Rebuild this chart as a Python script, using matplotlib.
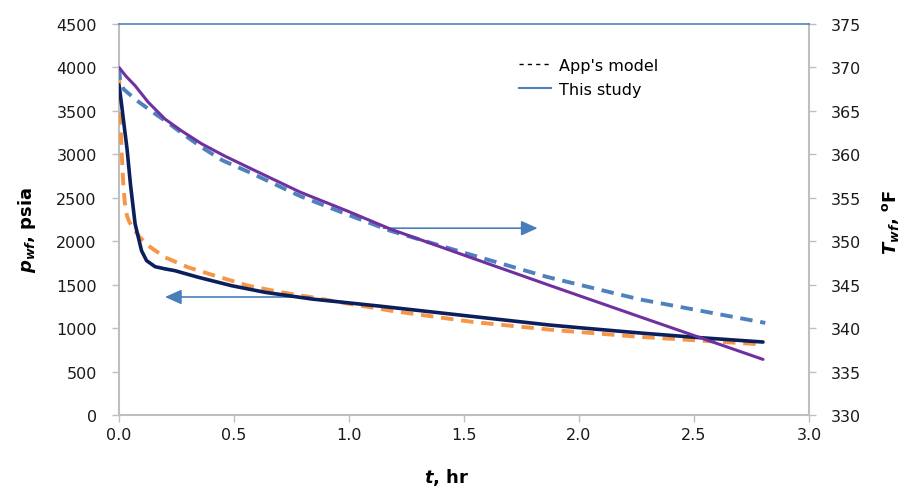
import matplotlib
matplotlib.use("Agg")
import matplotlib.pyplot as plt
from matplotlib.lines import Line2D

# ---------------- data ----------------
# Bottomhole pressure (psia) vs time (hr)
t_p_study = [0, 0.01, 0.02, 0.035, 0.05, 0.07, 0.084, 0.098, 0.12, 0.157, 0.2, 0.243,
             0.345, 0.49, 0.635, 0.838, 1.0, 1.13, 1.5, 1.87, 2.0, 2.265, 2.5, 2.8]
p_study = [3800, 3600, 3380, 3061, 2650, 2200, 2045, 1891, 1776, 1707, 1682, 1661,
           1585, 1488, 1412, 1335, 1290, 1254, 1145, 1036, 1005, 944, 895, 840]

t_p_app = [0, 0.004, 0.008, 0.013, 0.018, 0.025, 0.035, 0.045, 0.057, 0.07, 0.091,
           0.127, 0.2, 0.30, 0.417, 0.562, 0.707, 0.838, 1.0, 1.19, 1.54, 1.89, 2.27, 2.8]
p_app = [3950, 3600, 3250, 2946, 2682, 2450, 2290, 2220, 2175, 2120, 2045,
         1949, 1815, 1700, 1603, 1488, 1412, 1355, 1280, 1197, 1070, 978, 898, 812]

# Bottomhole temperature (F) vs time (hr)
t_T_study = [0, 0.03, 0.07, 0.127, 0.2, 0.272, 0.36, 0.46, 0.562, 0.787, 1.0,
             1.18, 1.51, 1.874, 2.265, 2.8]
T_study = [370.0, 369.0, 367.9, 366.0, 364.06, 362.7, 361.2, 359.8, 358.5, 355.66, 353.4,
           351.4, 348.3, 344.9, 341.3, 336.4]

t_T_app = [0, 0.005, 0.02, 0.077, 0.15, 0.22, 0.27, 0.36, 0.45, 0.57, 0.787, 1.0,
           1.18, 1.51, 1.86, 2.265, 2.81]
T_app = [370.0, 368.5, 367.5, 366.2, 364.8, 363.5, 362.5, 360.8, 359.3, 357.9, 355.2, 353.0,
         351.2, 348.6, 345.9, 343.3, 340.6]

# annotation arrows (tail -> head)
arrow_p = [(0.83, 1358), (0.20, 1358)]
arrow_T = [(1.15, 351.5), (1.82, 351.5)]

x_ticks = [0.0, 0.5, 1.0, 1.5, 2.0, 2.5, 3.0]
p_ticks = list(range(0, 4501, 500))
T_ticks = list(range(330, 376, 5))

legend_labels = ["App's model", "This study"]

# ---------------- style ----------------
plt.rcParams['font.family'] = ['DejaVu Sans']
plt.rcParams['mathtext.fontset'] = 'dejavusans'

GRAY = '#bfbfbf'
NAVY = '#0b1f5c'
ORANGE = '#f79646'
BLUE = '#4f81bd'
PURPLE = '#7030a0'
ARROW = '#4a7ebb'

fig = plt.figure(figsize=(9.15, 4.89), dpi=100)
ax = fig.add_axes([119/915, 1 - 416/489, 690/915, 391/489])
ax2 = ax.twinx()

dash = (3.2, 2.0)
common = dict(solid_joinstyle='round', dash_joinstyle='round', solid_capstyle='round')
ax.plot(t_p_app, p_app, color=ORANGE, lw=2.8, dashes=dash, zorder=3, **common)
ax.plot(t_p_study, p_study, color=NAVY, lw=2.6, zorder=4, **common)
ax2.plot(t_T_app, T_app, color=BLUE, lw=2.8, dashes=dash, zorder=3, **common)
ax2.plot(t_T_study, T_study, color=PURPLE, lw=2.2, zorder=4, **common)

ax.annotate('', xy=arrow_p[1], xytext=arrow_p[0],
            arrowprops=dict(arrowstyle='-|>,head_length=1.0,head_width=0.45',
                            color=ARROW, lw=1.2, shrinkA=0, shrinkB=0))
ax2.annotate('', xy=arrow_T[1], xytext=arrow_T[0],
             arrowprops=dict(arrowstyle='-|>,head_length=1.0,head_width=0.45',
                             color=ARROW, lw=1.2, shrinkA=0, shrinkB=0))

ax.set_xlim(0, 3.0)
ax.set_ylim(0, 4500)
ax2.set_ylim(330, 375)
ax.set_xticks(x_ticks)
ax.set_xticklabels([f"{v:.1f}" for v in x_ticks])
ax.set_yticks(p_ticks)
ax2.set_yticks(T_ticks)

for a in (ax, ax2):
    for s in a.spines.values():
        s.set_visible(False)
ax.spines['left'].set_visible(True)
ax.spines['left'].set_color(GRAY)
ax.spines['left'].set_linewidth(1.5)
ax.spines['bottom'].set_visible(True)
ax.spines['bottom'].set_color(GRAY)
ax.spines['bottom'].set_linewidth(1.5)
ax2.spines['right'].set_visible(True)
ax2.spines['right'].set_color(GRAY)
ax2.spines['right'].set_linewidth(1.5)
ax2.spines['top'].set_visible(True)
ax2.spines['top'].set_color(BLUE)
ax2.spines['top'].set_linewidth(1.2)

ax.tick_params(axis='y', length=5, width=1, color=GRAY, pad=11, labelsize=11.5, labelcolor='#1a1a1a')
ax.tick_params(axis='x', length=5, width=1, color=GRAY, pad=4, labelsize=11.5, labelcolor='#1a1a1a')
ax2.tick_params(axis='y', length=5, width=1, color=GRAY, pad=11, labelsize=11.5, labelcolor='#1a1a1a')

ax.set_xlabel(r'$\mathbfit{t}$, hr', fontsize=13, fontweight='bold')
ax.xaxis.set_label_coords(0.475, -0.13)
ax.set_ylabel(r'$\mathbfit{p}_{\mathbfit{wf}}$, psia', fontsize=13, fontweight='bold')
ax.yaxis.set_label_coords(-0.117, 0.476)
ax2.set_ylabel(r'$\mathbfit{T}_{\mathbfit{wf}}$, $\mathbf{{}^{o}F}$', fontsize=13,
               fontweight='bold', rotation=90)
ax2.yaxis.set_label_coords(1.103, 0.496)

handles = [Line2D([], [], color='black', lw=1.0, dashes=(3, 3)),
           Line2D([], [], color=BLUE, lw=1.5)]
leg = ax2.legend(handles, legend_labels, loc='upper left', bbox_to_anchor=(0.559, 0.95),
                 frameon=False, fontsize=11.5, handlelength=2.0, handletextpad=0.5,
                 labelspacing=0.55)

fig.savefig('out.png', dpi=100)
